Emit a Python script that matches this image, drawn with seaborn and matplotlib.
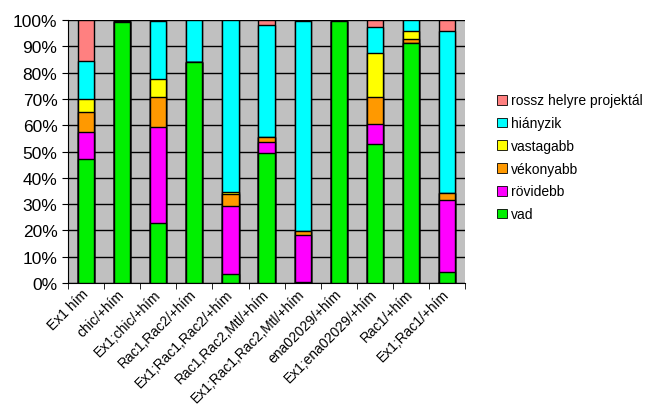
import numpy as np
import pandas as pd
import matplotlib
matplotlib.use("Agg")
import matplotlib.pyplot as plt
import seaborn as sns
from matplotlib.patches import Patch
from matplotlib.ticker import FuncFormatter, MultipleLocator

# kategóriák
genotipusok = ["Ex1 hím", "chic/+hím", "Ex1;chic/+hím", "Rac1,Rac2/+hím",
               "Ex1;Rac1,Rac2/+hím", "Rac1,Rac2,Mtl/+hím",
               "Ex1;Rac1,Rac2,Mtl/+hím", "ena02029/+hím",
               "Ex1;ena02029/+hím", "Rac1/+hím", "Ex1;Rac1/+hím"]

# százalékok, alulról felfelé
vad = [47.3, 99.2, 22.9, 84.0, 3.3, 49.6, 0.3, 99.5, 53.0, 91.2, 4.2]
rovidebb = [10.2, 0.2, 36.6, 0.0, 26.1, 4.1, 18.0, 0.0, 7.5, 0.0, 27.3]
vekonyabb = [7.6, 0.0, 11.3, 0.0, 4.3, 2.0, 1.5, 0.0, 10.3, 1.5, 2.6]
vastagabb = [4.7, 0.0, 6.7, 0.0, 0.9, 0.0, 0.0, 0.0, 16.6, 3.1, 0.0]
hianyzik = [14.6, 0.3, 22.0, 16.0, 65.4, 42.2, 79.7, 0.0, 9.9, 4.2, 61.7]
rossz = [15.6, 0.3, 0.5, 0.0, 0.0, 2.1, 0.5, 0.5, 2.7, 0.0, 4.2]

sorozatok = ["vad", "rövidebb", "vékonyabb", "vastagabb", "hiányzik",
             "rossz helyre projektál"]
szinek = ["#00f000", "#ff00ff", "#ff9900", "#ffff00", "#00ffff", "#ff8080"]

df = pd.DataFrame({"vad": vad, "rövidebb": rovidebb, "vékonyabb": vekonyabb,
                   "vastagabb": vastagabb, "hiányzik": hianyzik,
                   "rossz helyre projektál": rossz}, index=genotipusok)
kum = df.cumsum(axis=1)

plt.rcParams["font.family"] = ["Liberation Sans", "DejaVu Sans"]
fig = plt.figure(figsize=(6.59, 4.10), dpi=100)
ax = fig.add_axes([0.103, 0.307, 0.603, 0.642])
ax.set_facecolor("#c0c0c0")

# rétegek a legmagasabbtól lefelé
for nev, szin in reversed(list(zip(sorozatok, szinek))):
    sns.barplot(x=genotipusok, y=kum[nev].values, color=szin, width=0.45,
                edgecolor="black", linewidth=1.0, ax=ax, zorder=3,
                saturation=1)

ax.set_ylim(0, 100)
ax.set_xlim(-0.5, len(genotipusok) - 0.5)
ax.yaxis.set_major_locator(MultipleLocator(10))
ax.yaxis.set_major_formatter(FuncFormatter(lambda v, p: f"{int(v)}%"))
ax.grid(axis="y", color="black", linewidth=1.0, zorder=0)
ax.set_axisbelow(True)
ax.set_xlabel("")
ax.set_ylabel("")
for s in ["top", "right"]:
    ax.spines[s].set_visible(False)
ax.spines["left"].set_color("black")
ax.spines["bottom"].set_color("black")

ax.tick_params(axis="y", labelsize=12.5, length=4, direction="out")
ax.set_xticks(np.arange(len(genotipusok)))
ax.set_xticklabels(genotipusok, rotation=45, ha="right", va="center",
                   rotation_mode="anchor", fontsize=10)
ax.tick_params(axis="x", which="major", length=0, pad=6)
ax.set_xticks(np.arange(-0.5, len(genotipusok)), minor=True)
ax.tick_params(axis="x", which="minor", length=4, direction="out")

kezelok = [Patch(facecolor=c, edgecolor="black", linewidth=0.6, label=n)
           for n, c in reversed(list(zip(sorozatok, szinek)))]
fig.legend(handles=kezelok, loc="upper left", bbox_to_anchor=(0.735, 0.80),
           frameon=False, fontsize=10, handlelength=0.7, handleheight=0.7,
           handletextpad=0.3, labelspacing=0.63)

fig.savefig("out.png", dpi=100)
